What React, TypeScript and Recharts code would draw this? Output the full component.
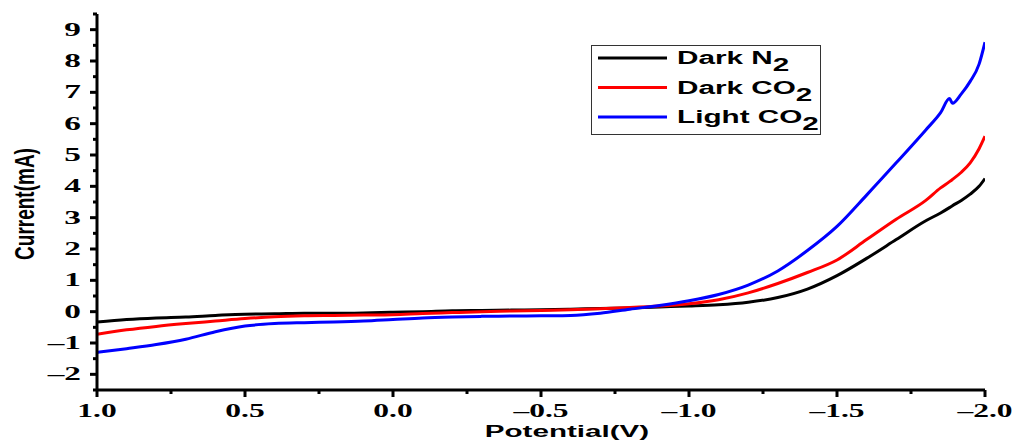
import { LineChart, Line, XAxis, YAxis } from "recharts";

// Potential (V), scanned from +1.0 down to -2.0
const potential = [
  1.0, 0.9, 0.8, 0.7, 0.6, 0.5, 0.4, 0.3, 0.2, 0.1, 0.0, -0.1, -0.2, -0.3, -0.4, -0.5, -0.6, -0.7, -0.8, -0.9,
  -1.0, -1.1, -1.2, -1.3, -1.4, -1.5, -1.6, -1.7, -1.8, -1.85, -1.88, -1.89, -1.92, -1.95, -1.98, -2.0,
];

// Current (mA)
const darkN2 = [
  -0.33, -0.25, -0.2, -0.17, -0.12, -0.08, -0.07, -0.05, -0.05, -0.04, -0.02, 0.0, 0.03, 0.04, 0.05, 0.06, 0.08,
  0.1, 0.12, 0.15, 0.18, 0.22, 0.3, 0.45, 0.72, 1.15, 1.7, 2.3, 2.9, 3.15, 3.32, 3.38, 3.55, 3.75, 4.0, 4.25,
];
const darkCO2 = [
  -0.72, -0.58, -0.47, -0.38, -0.3, -0.22, -0.16, -0.13, -0.12, -0.11, -0.1, -0.06, -0.03, 0.0, 0.02, 0.04, 0.06,
  0.09, 0.13, 0.18, 0.25, 0.38, 0.6, 0.9, 1.25, 1.65, 2.3, 2.95, 3.55, 3.95, 4.15, 4.22, 4.45, 4.75, 5.2, 5.6,
];
const lightCO2 = [
  -1.3, -1.18, -1.05, -0.88, -0.64, -0.46, -0.38, -0.35, -0.33, -0.3, -0.25, -0.2, -0.17, -0.15, -0.14, -0.13,
  -0.12, -0.05, 0.08, 0.2, 0.35, 0.55, 0.85, 1.3, 1.95, 2.72, 3.72, 4.75, 5.8, 6.35, 6.8, 6.65, 6.95, 7.35, 7.9,
  8.6,
];

const xTicks = [1.0, 0.75, 0.5, 0.25, 0.0, -0.25, -0.5, -0.75, -1.0, -1.25, -1.5, -1.75, -2.0];
const yTicks = [-2.5, -2, -1.5, -1, -0.5, 0, 0.5, 1, 1.5, 2, 2.5, 3, 3.5, 4, 4.5, 5, 5.5, 6, 6.5, 7, 7.5, 8, 8.5, 9, 9.5];

const seriesNames = ["Dark N", "Dark CO", "Light CO"];
const seriesColors = ["#000000", "#ff0000", "#0000ff"];

const data = potential.map((v, i) => ({
  v,
  n2: darkN2[i],
  co2: darkCO2[i],
  light: lightCO2[i],
}));

const serif = "'Liberation Serif', 'Times New Roman', serif";
const sans = "'Liberation Sans', Arial, sans-serif";

const fmtX = (v: number) => (v < 0 ? "\u2013" + Math.abs(v).toFixed(1) : v.toFixed(1));
const fmtY = (v: number) => (v < 0 ? "\u2013" + Math.abs(v) : String(v));

const isMajor = (v: number, step: number) => Math.abs(v / step - Math.round(v / step)) < 1e-6;

const XTick = (props: any) => {
  const { x, y, payload } = props;
  const major = isMajor(payload.value, 0.5);
  return (
    <g>
      <line x1={x} x2={x} y1={y} y2={y + (major ? 7 : 4)} stroke="#000" strokeWidth={3} />
      {major && (
        <text
          transform={`translate(${x},${y + 27}) scale(1.75,1)`}
          textAnchor="middle"
          fontFamily={serif}
          fontWeight="bold"
          fontSize={18}
          fill="#000"
        >
          {fmtX(payload.value)}
        </text>
      )}
    </g>
  );
};

const YTick = (props: any) => {
  const { x, y, payload } = props;
  const major = isMajor(payload.value, 1);
  return (
    <g>
      <line x1={x} x2={x - (major ? 7 : 4)} y1={y} y2={y} stroke="#000" strokeWidth={3} />
      {major && (
        <text
          transform={`translate(${x - 16},${y + 6}) scale(1.85,1)`}
          textAnchor="end"
          fontFamily={serif}
          fontWeight="bold"
          fontSize={18}
          fill="#000"
        >
          {fmtY(payload.value)}
        </text>
      )}
    </g>
  );
};

// legend box drawn on top of the plot, like the origin figure
const LegendBox = () => (
  <svg width={232} height={92} style={{ position: "absolute", left: 591, top: 45 }}>
    <rect x={0.5} y={0.5} width={229} height={89} fill="#fff" stroke="#333" strokeWidth={1} />
    {seriesNames.map((name, i) => {
      const cy = 13 + i * 29.5;
      return (
        <g key={name}>
          <line x1={7} x2={76} y1={cy} y2={cy} stroke={seriesColors[i]} strokeWidth={3} />
          <text
            transform={`translate(86,${cy + 6}) scale(1.65,1)`}
            fontFamily={sans}
            fontWeight="bold"
            fontSize={18}
            fill="#000"
          >
            {name}
            <tspan dy={7}>2</tspan>
          </text>
        </g>
      );
    })}
  </svg>
);

export default function App() {
  return (
    <div style={{ position: "absolute", left: 0, top: 0, width: 1015, height: 441, background: "#fff" }}>
      <LineChart width={1015} height={441} data={data} margin={{ top: 14, right: 30, bottom: 0, left: 0 }}>
        <XAxis
          dataKey="v"
          type="number"
          domain={[-2, 1]}
          reversed
          ticks={xTicks}
          interval={0}
          height={51}
          tickSize={0}
          tickMargin={0}
          tick={<XTick />}
          axisLine={{ stroke: "#000", strokeWidth: 3 }}
          allowDataOverflow
          label={{
            content: () => (
              <text
                transform="translate(567,437) scale(1.85,1)"
                textAnchor="middle"
                fontFamily={sans}
                fontWeight="bold"
                fontSize={16}
                fill="#000"
              >
                Potential(V)
              </text>
            ),
          }}
        />
        <XAxis
          xAxisId="top"
          dataKey="v"
          type="number"
          domain={[-2, 1]}
          reversed
          orientation="top"
          height={0}
          tick={false}
          tickLine={false}
          axisLine={{ stroke: "#000", strokeWidth: 3 }}
        />
        <YAxis
          type="number"
          domain={[-2.5, 9.5]}
          ticks={yTicks}
          interval={0}
          width={97}
          tickSize={0}
          tickMargin={0}
          tick={<YTick />}
          axisLine={{ stroke: "#000", strokeWidth: 3 }}
          allowDataOverflow
          label={{
            content: () => (
              <text
                transform="translate(34,204) scale(1.45,1) rotate(-90)"
                textAnchor="middle"
                fontFamily={sans}
                fontWeight="bold"
                fontSize={19}
                fill="#000"
              >
                Current(mA)
              </text>
            ),
          }}
        />
        <YAxis
          yAxisId="right"
          orientation="right"
          type="number"
          domain={[-2.5, 9.5]}
          width={0}
          tick={false}
          tickLine={false}
          axisLine={{ stroke: "#000", strokeWidth: 3 }}
        />
        <Line dataKey="n2" name="Dark N2" stroke={seriesColors[0]} strokeWidth={3} dot={false} type="monotone" isAnimationActive={false} />
        <Line dataKey="co2" name="Dark CO2" stroke={seriesColors[1]} strokeWidth={3} dot={false} type="monotone" isAnimationActive={false} />
        <Line dataKey="light" name="Light CO2" stroke={seriesColors[2]} strokeWidth={3} dot={false} type="monotone" isAnimationActive={false} />
      </LineChart>
      <LegendBox />
    </div>
  );
}
